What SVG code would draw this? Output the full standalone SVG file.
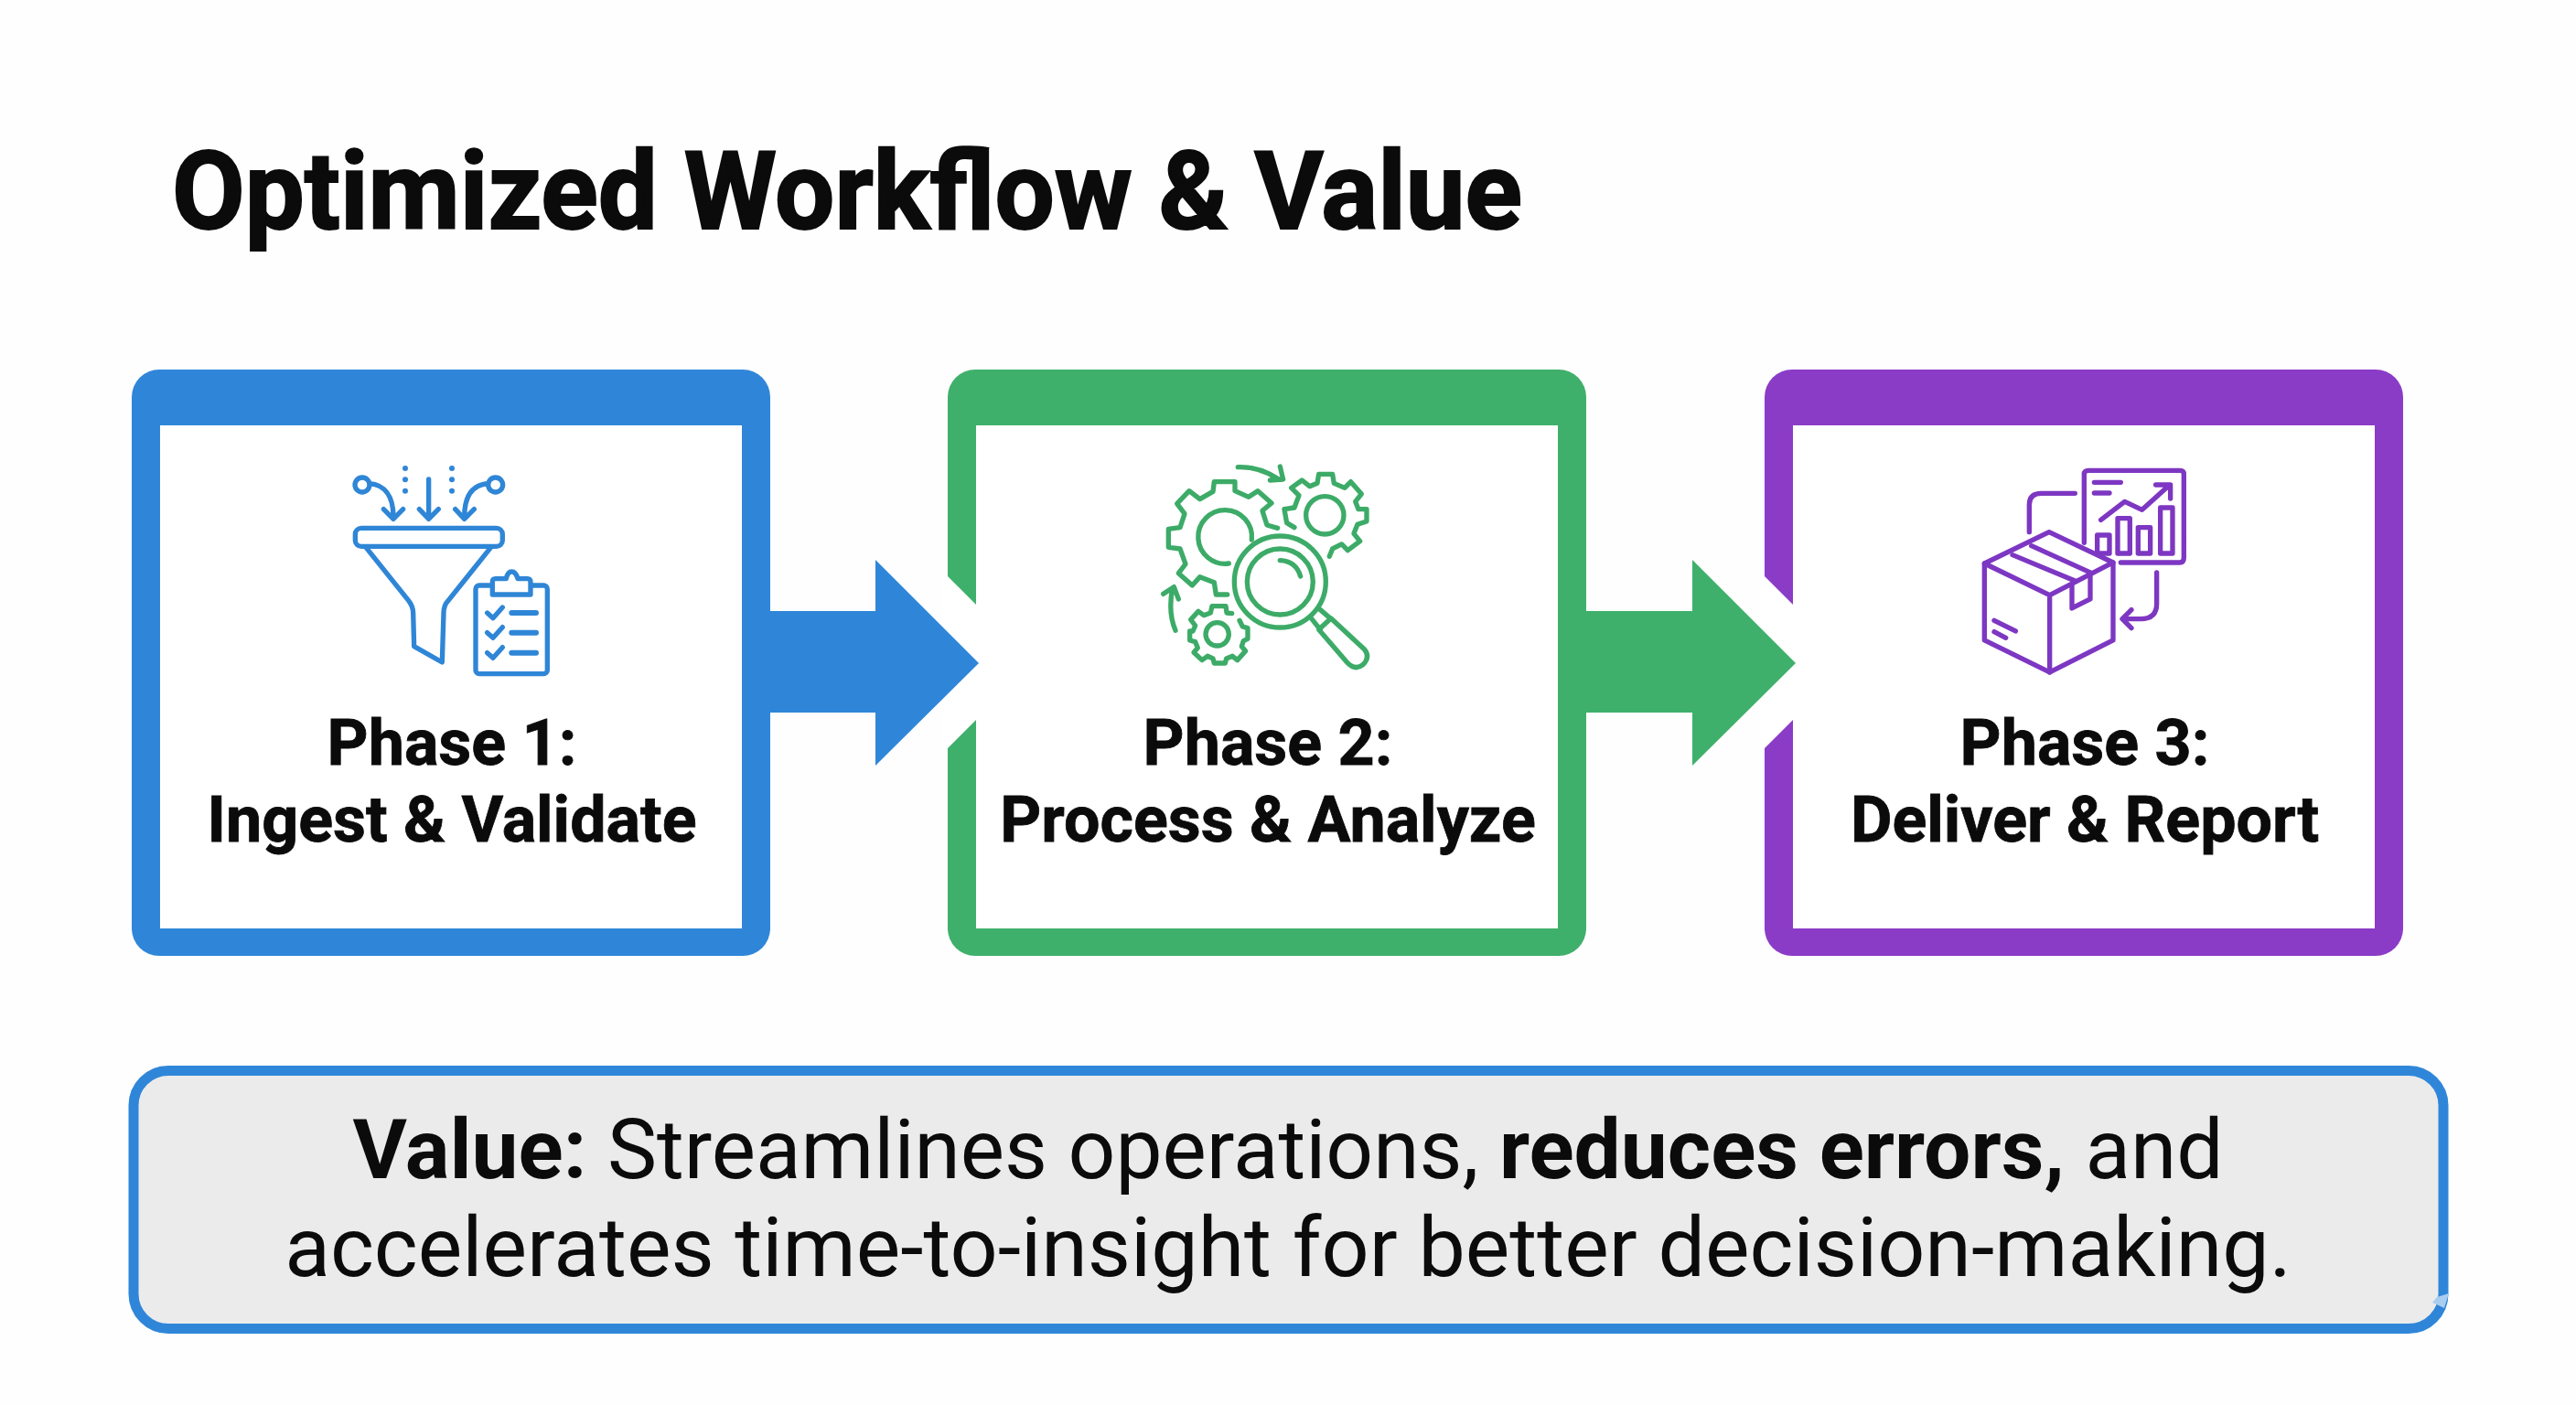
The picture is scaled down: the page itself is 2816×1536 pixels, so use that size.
<svg xmlns="http://www.w3.org/2000/svg" width="2816" height="1536" viewBox="0 0 2816 1536">
<style>
text{font-family:Roboto,"Liberation Sans",sans-serif;fill:#0b0b0b}
.t{font-size:118px;font-weight:700;stroke:#0b0b0b;stroke-width:2px}
.p{font-size:70px;font-weight:700;text-anchor:middle;stroke:#0b0b0b;stroke-width:.8px}
.v{font-size:91.500px;font-weight:400;text-anchor:middle}
.v tspan{font-weight:700}
.i{fill:none;stroke-width:16;stroke-linecap:round;stroke-linejoin:round}
.b{stroke:#2f86d6}.g{stroke:#3dab68}.u{stroke:#7d37c2}
</style>
<rect width="2816" height="1536" fill="#fefefe"/>
<text id="title" class="t" x="188" y="250" textLength="1476" lengthAdjust="spacingAndGlyphs">Optimized Workflow &amp; Value</text>
<g id="phase1">
<rect x="144" y="404" width="698" height="641" rx="30" fill="#2f86d9"/>
<rect x="175" y="465" width="636" height="550" fill="#fff"/>
<g class="i b" transform="translate(340 480) scale(.3333)">
<circle cx="168" cy="150" r="24"/><circle cx="605" cy="150" r="24"/>
<path d="M192 146C240 150 270 185 270 255M238 230L270 262L302 230"/>
<path d="M581 146C530 150 503 185 503 255M473 230L503 262L535 230"/>
<path d="M386 132V255M355 230L386 262L418 230"/>
<g fill="#2f86d6" stroke="none"><circle cx="309" cy="96" r="9"/><circle cx="309" cy="133" r="9"/><circle cx="309" cy="170" r="9"/><circle cx="462" cy="96" r="9"/><circle cx="462" cy="133" r="9"/><circle cx="462" cy="170" r="9"/></g>
<rect x="145" y="292" width="483" height="60" rx="20"/>
<path d="M180 355L320 530Q335 550 335 570L338 680L430 732L435 570Q435 545 450 530L590 355"/>
<rect x="540" y="480" width="235" height="290" rx="12"/>
<path fill="#fff" d="M595 510V468Q595 458 605 458H640Q645 435 658 435Q672 435 678 458H710Q720 458 720 470V510Z"/>
<path d="M578 570L597 587L628 552M578 635L597 652L628 617M578 701L597 718L628 683"/>
<path stroke-width="18" d="M658 570H738M658 635H738M658 701H738"/>
</g>
<text class="p" x="494" y="836">Phase 1:</text>
<text class="p" x="494" y="920">Ingest &amp; Validate</text>
</g>
<g id="phase2">
<rect x="1036" y="404" width="698" height="641" rx="30" fill="#3fb06b"/>
<rect x="1067" y="465" width="636" height="550" fill="#fff"/>
<g class="i g" transform="translate(1240 480) scale(.3333)">
<path d="M470 292L435 282L420 235L450 210L405 170L375 190L330 170V140H262L258 172L215 197L180 170L140 212L165 245L150 290L112 295V355L150 360L168 410L145 440L190 480L215 452L262 470L268 510H305"/>
<path d="M310 408A88 88 0 1 1 385 330"/>
<path d="M525 290L500 275L492 230L525 225L540 185L515 160L550 135L575 155L600 145L605 115H650L655 145L690 160L710 140L745 180L725 205L735 230H762V270L732 280L720 310L740 335L700 365L680 345L650 360L640 385"/>
<circle cx="625" cy="250" r="62"/>
<path d="M320 572L303 570L300 548H255L250 570L228 578L210 565L185 592L200 612L192 630H182V660L200 665L208 685L195 700L222 725L240 712L258 720L262 735H298L302 720L322 712L338 725L365 695L352 680L358 662L372 655V620L355 615L345 595"/>
<circle cx="272" cy="640" r="38"/>
<circle cx="478" cy="468" r="150"/><circle cx="478" cy="468" r="108"/>
<path d="M478 398Q530 400 545 450"/>
<path d="M582 590L610 625M610 560L645 590"/>
<path d="M605 625L645 588L755 690Q775 715 750 740Q725 760 700 735Z"/>
<path d="M340 92Q410 90 470 130M478 90L488 132L445 135"/>
<path d="M135 628Q110 570 125 490M95 508L130 485L145 525"/>
</g>
<text class="p" x="1386" y="836">Phase 2:</text>
<text class="p" x="1386" y="920">Process &amp; Analyze</text>
</g>
<g id="phase3">
<rect x="1929" y="404" width="698" height="641" rx="30" fill="#8b3cc7"/>
<rect x="1960" y="465" width="636" height="550" fill="#fff"/>
<g class="i u" transform="translate(2130 480) scale(.3333)">
<path d="M445 340V115Q445 103 460 103H760Q772 103 772 115V390Q772 405 758 405H565"/>
<path d="M478 142H565M478 177H528M500 265L578 205L635 232L720 155M680 150H728V195"/>
<rect x="488" y="315" width="40" height="60"/><rect x="555" y="260" width="40" height="115"/><rect x="622" y="290" width="40" height="85"/><rect x="695" y="225" width="40" height="150"/>
<path d="M265 305V215Q265 178 305 178H415M683 438V540Q683 590 630 590H575M600 560L570 590L600 620"/>
<path fill="#fff" d="M118 408L330 305L540 405V660L332 765L118 660Z"/>
<path d="M118 408L332 512L540 405M332 512V765"/>
<path d="M210 380L415 465M272 350L470 440M405 480V555L465 525V445"/>
<path d="M150 595L220 630M150 632L188 652"/>
</g>
<text class="p" x="2279" y="836">Phase 3:</text>
<text class="p" x="2279" y="920">Deliver &amp; Report</text>
</g>
<g id="connectors">
<path fill="#fff" d="M1030 624L1067 661V787L1030 824Z"/>
<path fill="#fff" d="M1923 624L1960 661V787L1923 824Z"/>
<path fill="#2f86d9" d="M842 668H957V612L1070 725L957 837V779H842Z"/>
<path fill="#3fb06b" d="M1734 668H1850V612L1963 725L1850 837V779H1734Z"/>
</g>
<g id="value">
<rect x="146" y="1170.500" width="2525" height="282" rx="38" fill="#ebebeb" stroke="#2f86d9" stroke-width="11"/>
<path fill="#a9cdef" d="M2664 1418L2677 1414L2672 1430L2659 1424Z"/>
<text class="v" x="1408" y="1288" style="font-size:91px"><tspan>Value:</tspan> Streamlines operations, <tspan>reduces errors,</tspan> and</text>
<text class="v" x="1408" y="1395">accelerates time-to-insight for better decision-making.</text>
</g>
</svg>
